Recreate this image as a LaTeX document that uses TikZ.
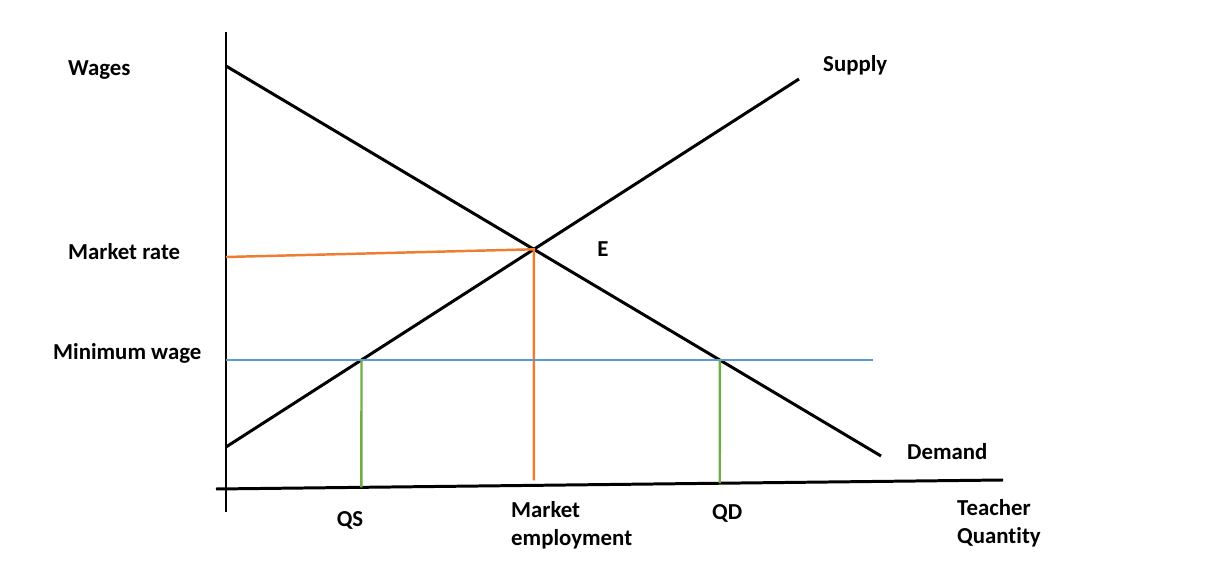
\documentclass[tikz,border=0pt]{standalone}
\usepackage{fontspec}
\setmainfont{Carlito}[Ligatures=NoCommon]
\usepackage{tikz}
\usetikzlibrary{positioning,calc}
\definecolor{wageorange}{RGB}{237,125,49}
\definecolor{minblue}{RGB}{91,155,213}
\definecolor{qgreen}{RGB}{112,173,71}

\begin{document}
\begin{tikzpicture}[x=0.02cm,y=-0.02cm,every node/.style={font=\bfseries\fontsize{13}{16}\selectfont},
  curve/.style={line width=1.7pt},
  guide/.style={line width=1.4pt}]
\useasboundingbox (0,0) rectangle (1207,587);
% axes
\coordinate (ytop) at (226,32);
\coordinate (ybot) at (226,512);
\coordinate (xleft) at (216,489);
\coordinate (xright) at (1003,480);
\draw[curve] (ytop)--(ybot);
\draw[curve] (xleft)--(xright);
% demand and supply
\coordinate (d1) at (226,66);
\coordinate (d2) at (881,456);
\coordinate (s1) at (226,447);
\coordinate (s2) at (799,79);
\draw[curve] (d1)--(d2);
\draw[curve] (s1)--(s2);
\coordinate (eq) at (intersection of d1--d2 and s1--s2);
% market rate
\coordinate (mr) at (226,257);
\coordinate (eqdown) at ($(eq)+(0,300)$);
\coordinate (me) at (intersection of eq--eqdown and xleft--xright);
\draw[guide,wageorange] (mr)--(eq)--($(me)+(0,-5)$);
% minimum wage
\coordinate (mw1) at (226,360);
\coordinate (mw2) at (873,360);
\draw[guide,minblue] (mw1)--(mw2);
\coordinate (qs) at (intersection of mw1--mw2 and s1--s2);
\coordinate (qd) at (intersection of mw1--mw2 and d1--d2);
\coordinate (qsdown) at ($(qs)+(0,300)$);
\coordinate (qddown) at ($(qd)+(0,300)$);
\draw[guide,qgreen] (qs)--(intersection of qs--qsdown and xleft--xright);
\draw[guide,qgreen] (qd)--(intersection of qd--qddown and xleft--xright);
% labels
\node[anchor=west] (wages) at (62,70) {Wages};
\node[anchor=west] (mrate) at (62,252) {Market rate};
\node[anchor=west] (mwage) at (47,353) {Minimum wage};
\node[anchor=west] (supply) at (817,65) {Supply};
\node (elab) at (603,249) {E};
\node[anchor=west] (demand) at (901,452) {Demand};
\node (qslab) at (350,520) {QS};
\node[anchor=west,align=left] (mkt) at (505,525) {Market\\employment};
\node[anchor=west] (qdlab) at (706,513) {QD};
\node[anchor=west,align=left] (tq) at (951,523) {Teacher\\Quantity};
\end{tikzpicture}
\end{document}
